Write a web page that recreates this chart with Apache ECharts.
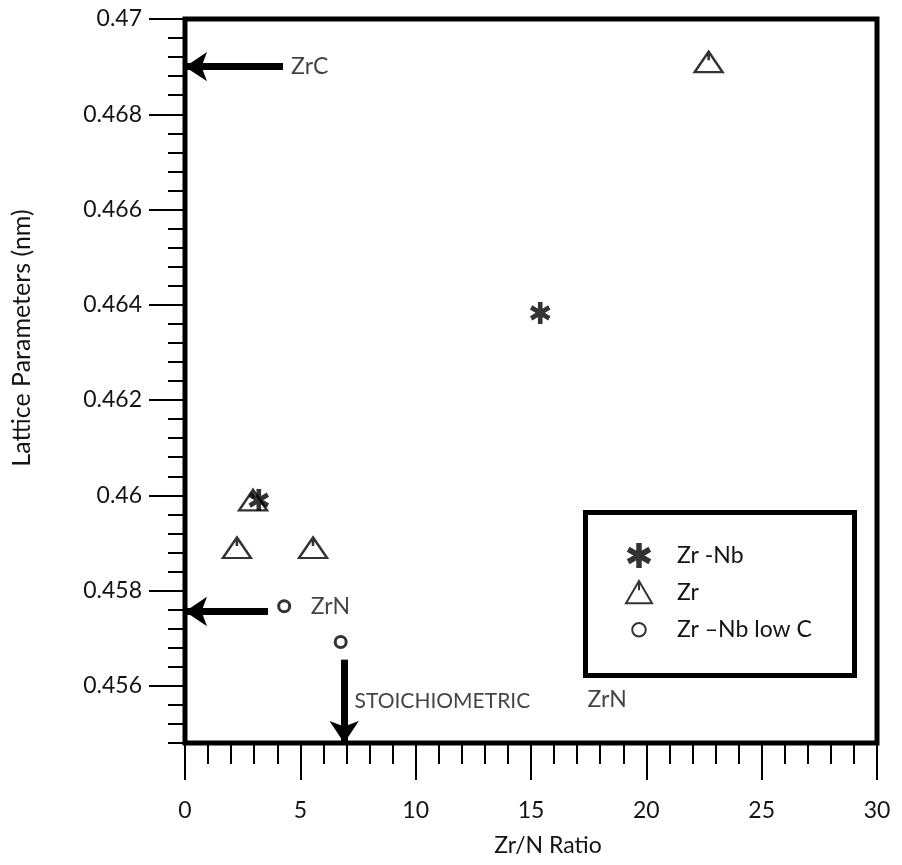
<!DOCTYPE html>
<html>
<head>
<meta charset="utf-8">
<script src="https://cdn.jsdelivr.net/npm/echarts@6/dist/echarts.min.js"></script>
<style>
  html,body{margin:0;padding:0;background:#fff;}
  #main{width:902px;height:865px;}
</style>
</head>
<body>
<div id="main"></div>
<script>
// data
var zrNb = [[15.4, 0.46383], [3.2, 0.4599]];
var zr = [[22.7, 0.4691], [2.95, 0.4599], [2.25, 0.4589], [5.55, 0.4589]];
var zrNbLowC = [[4.3, 0.45767], [6.75, 0.45692]];
var yMajor = [0.456, 0.458, 0.46, 0.462, 0.464, 0.466, 0.468, 0.47];
var notes = [[4.6, 0.469, 'ZrC'], [5.45, 0.45767, 'ZrN'], [7.35, 0.45568, 'STOICHIOMETRIC'], [17.45, 0.45571, 'ZrN']];
var arrows = [
  [[4.25, 0.469], [0, 0.469]],
  [[3.6, 0.45756], [0, 0.45756]],
  [[6.9, 0.45655], [6.9, 0.4548]]
];

var yMinor = [];
for (var k = 0; k <= 38; k++) {
  var v = Math.round((0.4548 + k * 0.0004) * 10000) / 10000;
  if (yMajor.indexOf(v) < 0) yMinor.push(v);
}

var txt = '#141414';
var font = 'Lato';
var asterisk = 'path://M-2.2,-10 L2.2,-10 L2.2,10 L-2.2,10 Z ' +
  'M7.56,-6.905 L9.76,-3.095 L-7.56,6.905 L-9.76,3.095 Z ' +
  'M9.76,3.095 L7.56,6.905 L-9.76,-3.095 L-7.56,-6.905 Z';
var tri = 'path://M0,0 L14,24 L-14,24 Z M0,0 L0,10';
// small ring inside a wider invisible box, so the legend icon stays small
var ringIcon = 'path://M-12,-12 M12,12 M6.5,0 A6.5,6.5 0 1 1 -6.5,0 A6.5,6.5 0 1 1 6.5,0 Z';

var noteData = notes.map(function (n) {
  return {value: n, label: {fontSize: n[2].length > 5 ? 21 : 23}};
});

var myChart = echarts.init(document.getElementById('main'));
var option = {
  animation: false,
  textStyle: {fontFamily: font, color: txt},
  grid: {left: 185, right: 25, top: 19, bottom: 122, show: true, borderColor: '#000', borderWidth: 5},
  xAxis: [
    {type: 'value', min: 0, max: 30, interval: 5, position: 'bottom',
     axisLine: {show: false}, splitLine: {show: false},
     axisTick: {length: 37, lineStyle: {color: '#000', width: 2}},
     axisLabel: {margin: 56, fontSize: 23, color: txt, fontFamily: font}},
    {type: 'value', min: 0, max: 30, interval: 1, position: 'bottom',
     axisLine: {show: false}, splitLine: {show: false}, axisLabel: {show: false},
     axisTick: {length: 21, lineStyle: {color: '#000', width: 2}}}
  ],
  yAxis: [
    {type: 'value', min: 0.4548, max: 0.47, position: 'left',
     axisLine: {show: false}, splitLine: {show: false},
     axisTick: {length: 36, customValues: yMajor, lineStyle: {color: '#000', width: 2}},
     axisLabel: {margin: 43, fontSize: 23, color: txt, fontFamily: font, customValues: yMajor,
                 formatter: function (v) { return String(v); }}},
    {type: 'value', min: 0.4548, max: 0.47, position: 'left', offset: 0,
     axisLine: {show: false}, splitLine: {show: false}, axisLabel: {show: false},
     axisTick: {length: 17, customValues: yMinor, lineStyle: {color: '#000', width: 2}}}
  ],
  legend: {
    orient: 'vertical', left: 620, top: 538, itemGap: 12,
    itemWidth: 26, itemHeight: 25,
    data: [{name: 'Zr -Nb'}, {name: 'Zr'}, {name: 'Zr \u2013Nb low C', icon: ringIcon}],
    textStyle: {fontSize: 23, color: txt, fontFamily: font, padding: [0, 0, 0, 20]}
  },
  graphic: [
    {type: 'rect', left: 583, top: 510, shape: {width: 269, height: 163},
     style: {fill: 'none', stroke: '#000', lineWidth: 5}, z: 10},
    {type: 'text', x: 22, y: 338, rotation: Math.PI / 2,
     style: {text: 'Lattice Parameters (nm)', fontSize: 25, fontFamily: font, fill: txt,
             align: 'center', verticalAlign: 'middle'}},
    {type: 'text', x: 548, y: 846,
     style: {text: 'Zr/N Ratio', fontSize: 23, fontFamily: font, fill: txt,
             align: 'center', verticalAlign: 'middle'}}
  ],
  series: [
    {name: 'Zr -Nb', type: 'scatter', data: zrNb, symbol: asterisk, symbolSize: [21, 22],
     symbolKeepAspect: true, itemStyle: {color: '#000'}, z: 5},
    {name: 'Zr', type: 'scatter', data: zr, symbol: tri, symbolSize: [28, 24],
     symbolKeepAspect: true,
     itemStyle: {color: 'rgba(0,0,0,0)', borderColor: '#000', borderWidth: 2.4}, z: 4},
    {name: 'Zr \u2013Nb low C', type: 'scatter', data: zrNbLowC, symbol: 'circle', symbolSize: 11,
     itemStyle: {color: 'rgba(0,0,0,0)', borderColor: '#000', borderWidth: 3}, z: 4},
    {name: 'notes', type: 'scatter', data: noteData, symbolSize: 0, silent: true,
     label: {show: true, position: 'right', distance: 0, color: txt, fontFamily: font,
             formatter: function (p) { return p.data.value[2]; }},
     markLine: {
       silent: true, symbol: ['none', 'arrow'], symbolSize: [22, 22],
       label: {show: false},
       lineStyle: {color: '#000', width: 7, type: 'solid'},
       data: arrows.map(function (a) { return [{coord: a[0]}, {coord: a[1]}]; })
     }}
  ]
};
myChart.setOption(option);
</script>
</body>
</html>
